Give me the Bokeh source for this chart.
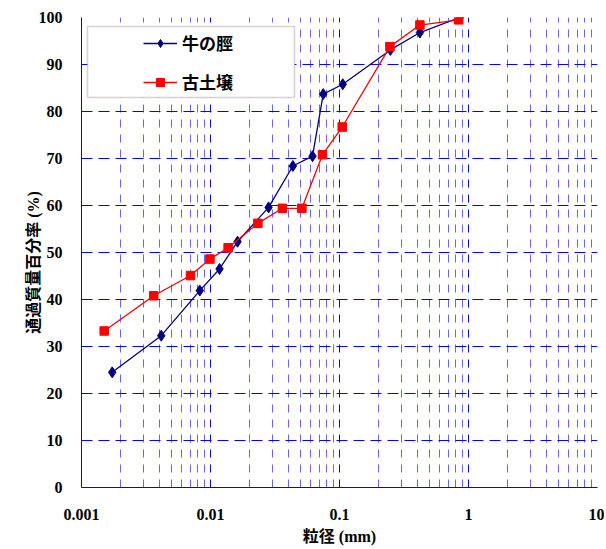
from bokeh.plotting import figure
from bokeh.models import Range1d, FixedTicker, Legend, LegendItem, BoxAnnotation
from bokeh.embed import file_html
from bokeh.resources import INLINE

# ---- data ----
usu_name = "牛の脛"
usu_x = [0.00173, 0.00415, 0.00826, 0.01175, 0.0162, 0.0282, 0.0435, 0.0618, 0.0748, 0.106, 0.248, 0.42, 0.857]
usu_y = [24.5, 32.3, 41.9, 46.5, 52.3, 59.6, 68.4, 70.5, 83.7, 85.8, 93.1, 96.8, 100.0]

ko_name = "古土壌"
ko_x = [0.0015, 0.00363, 0.0070, 0.0099, 0.0137, 0.0233, 0.0361, 0.0511, 0.0738, 0.105, 0.246, 0.42, 0.84]
ko_y = [33.3, 40.8, 45.1, 48.6, 51.0, 56.2, 59.4, 59.4, 70.8, 76.7, 93.8, 98.4, 99.5]

x_ticks = [0.001, 0.01, 0.1, 1, 10]
x_tick_labels = ["0.001", "0.01", "0.1", "1", "10"]
y_ticks = [0, 10, 20, 30, 40, 50, 60, 70, 80, 90, 100]

x_title = "粒径 (mm)"
y_title = "通過質量百分率 (%)"

# ---- figure ----
p = figure(width=604, height=547, x_axis_type="log",
           x_range=Range1d(0.001, 10), y_range=Range1d(0, 100),
           output_backend="svg", toolbar_location=None,
           min_border_left=81, min_border_right=7,
           min_border_top=17, min_border_bottom=59)
p.outline_line_color = None
p.background_fill_color = "white"

minor = [m * d for d in x_ticks[:-1] for m in range(2, 10)]
p.xaxis.ticker = FixedTicker(ticks=x_ticks, minor_ticks=minor)
p.xaxis.major_label_overrides = {t: l for t, l in zip(x_ticks, x_tick_labels)}
p.yaxis.ticker = FixedTicker(ticks=y_ticks)

serif_font = "Liberation Serif, Noto Sans CJK JP"
for ax in (p.xaxis[0], p.yaxis[0]):
    ax.axis_line_color = "#0000ff"
    ax.axis_line_width = 1
    ax.major_tick_in = 0
    ax.major_tick_out = 0
    ax.minor_tick_in = 0
    ax.minor_tick_out = 0
    ax.major_label_text_font = "Liberation Serif"
    ax.major_label_text_font_style = "bold"
    ax.major_label_text_font_size = "16px"
    ax.major_label_text_color = "black"
    ax.axis_label_text_font = serif_font
    ax.axis_label_text_font_style = "bold"
    ax.axis_label_text_font_size = "16px"
    ax.axis_label_text_color = "black"

p.xaxis.major_label_standoff = 21
p.xaxis.axis_label = x_title
p.xaxis.axis_label_standoff = 5
p.yaxis.major_label_standoff = 19
p.yaxis.axis_label = y_title + "\u3000\u00a0"
p.yaxis.axis_label_standoff = -6

# grids
p.ygrid.grid_line_color = "#0000ff"
p.ygrid.grid_line_dash = "11 6"
p.ygrid.grid_line_width = 1
p.xgrid.grid_line_color = "#0000ff"
p.xgrid.grid_line_dash = "8 7"
p.xgrid.grid_line_width = 1
p.xgrid.minor_grid_line_color = "#0000ff"
p.xgrid.minor_grid_line_alpha = 0.6
p.xgrid.minor_grid_line_dash = "8 7"
p.xgrid.minor_grid_line_width = 1

# series
r1l = p.line(usu_x, usu_y, line_color="#000080", line_width=1.3)
r1m = p.scatter(usu_x, usu_y, marker="diamond", size=11, fill_color="#000080",
                line_color="#000080")
r2l = p.line(ko_x, ko_y, line_color="#ff0000", line_width=1.3)
r2m = p.scatter(ko_x, ko_y, marker="square", size=8.5, fill_color="#ff0000",
                line_color="#ff0000")

# legend box
box = BoxAnnotation(left=6, right=213, top=461, bottom=390,
                    left_units="screen", right_units="screen",
                    top_units="screen", bottom_units="screen",
                    fill_color="white", fill_alpha=1.0,
                    line_color="#707070", line_width=1.6)
p.add_layout(box)

legend = Legend(items=[LegendItem(label=usu_name, renderers=[r1l, r1m]),
                       LegendItem(label=ko_name, renderers=[r2l, r2m])],
                location=(62, 393), glyph_width=34, glyph_height=20,
                spacing=14, padding=0, margin=0, label_standoff=5,
                border_line_color=None, background_fill_alpha=0,
                label_text_font="Noto Sans CJK JP", label_text_font_style="bold",
                label_text_font_size="17px", label_text_color="black")
p.add_layout(legend)

open("out.html", "w").write(file_html(p, INLINE))
